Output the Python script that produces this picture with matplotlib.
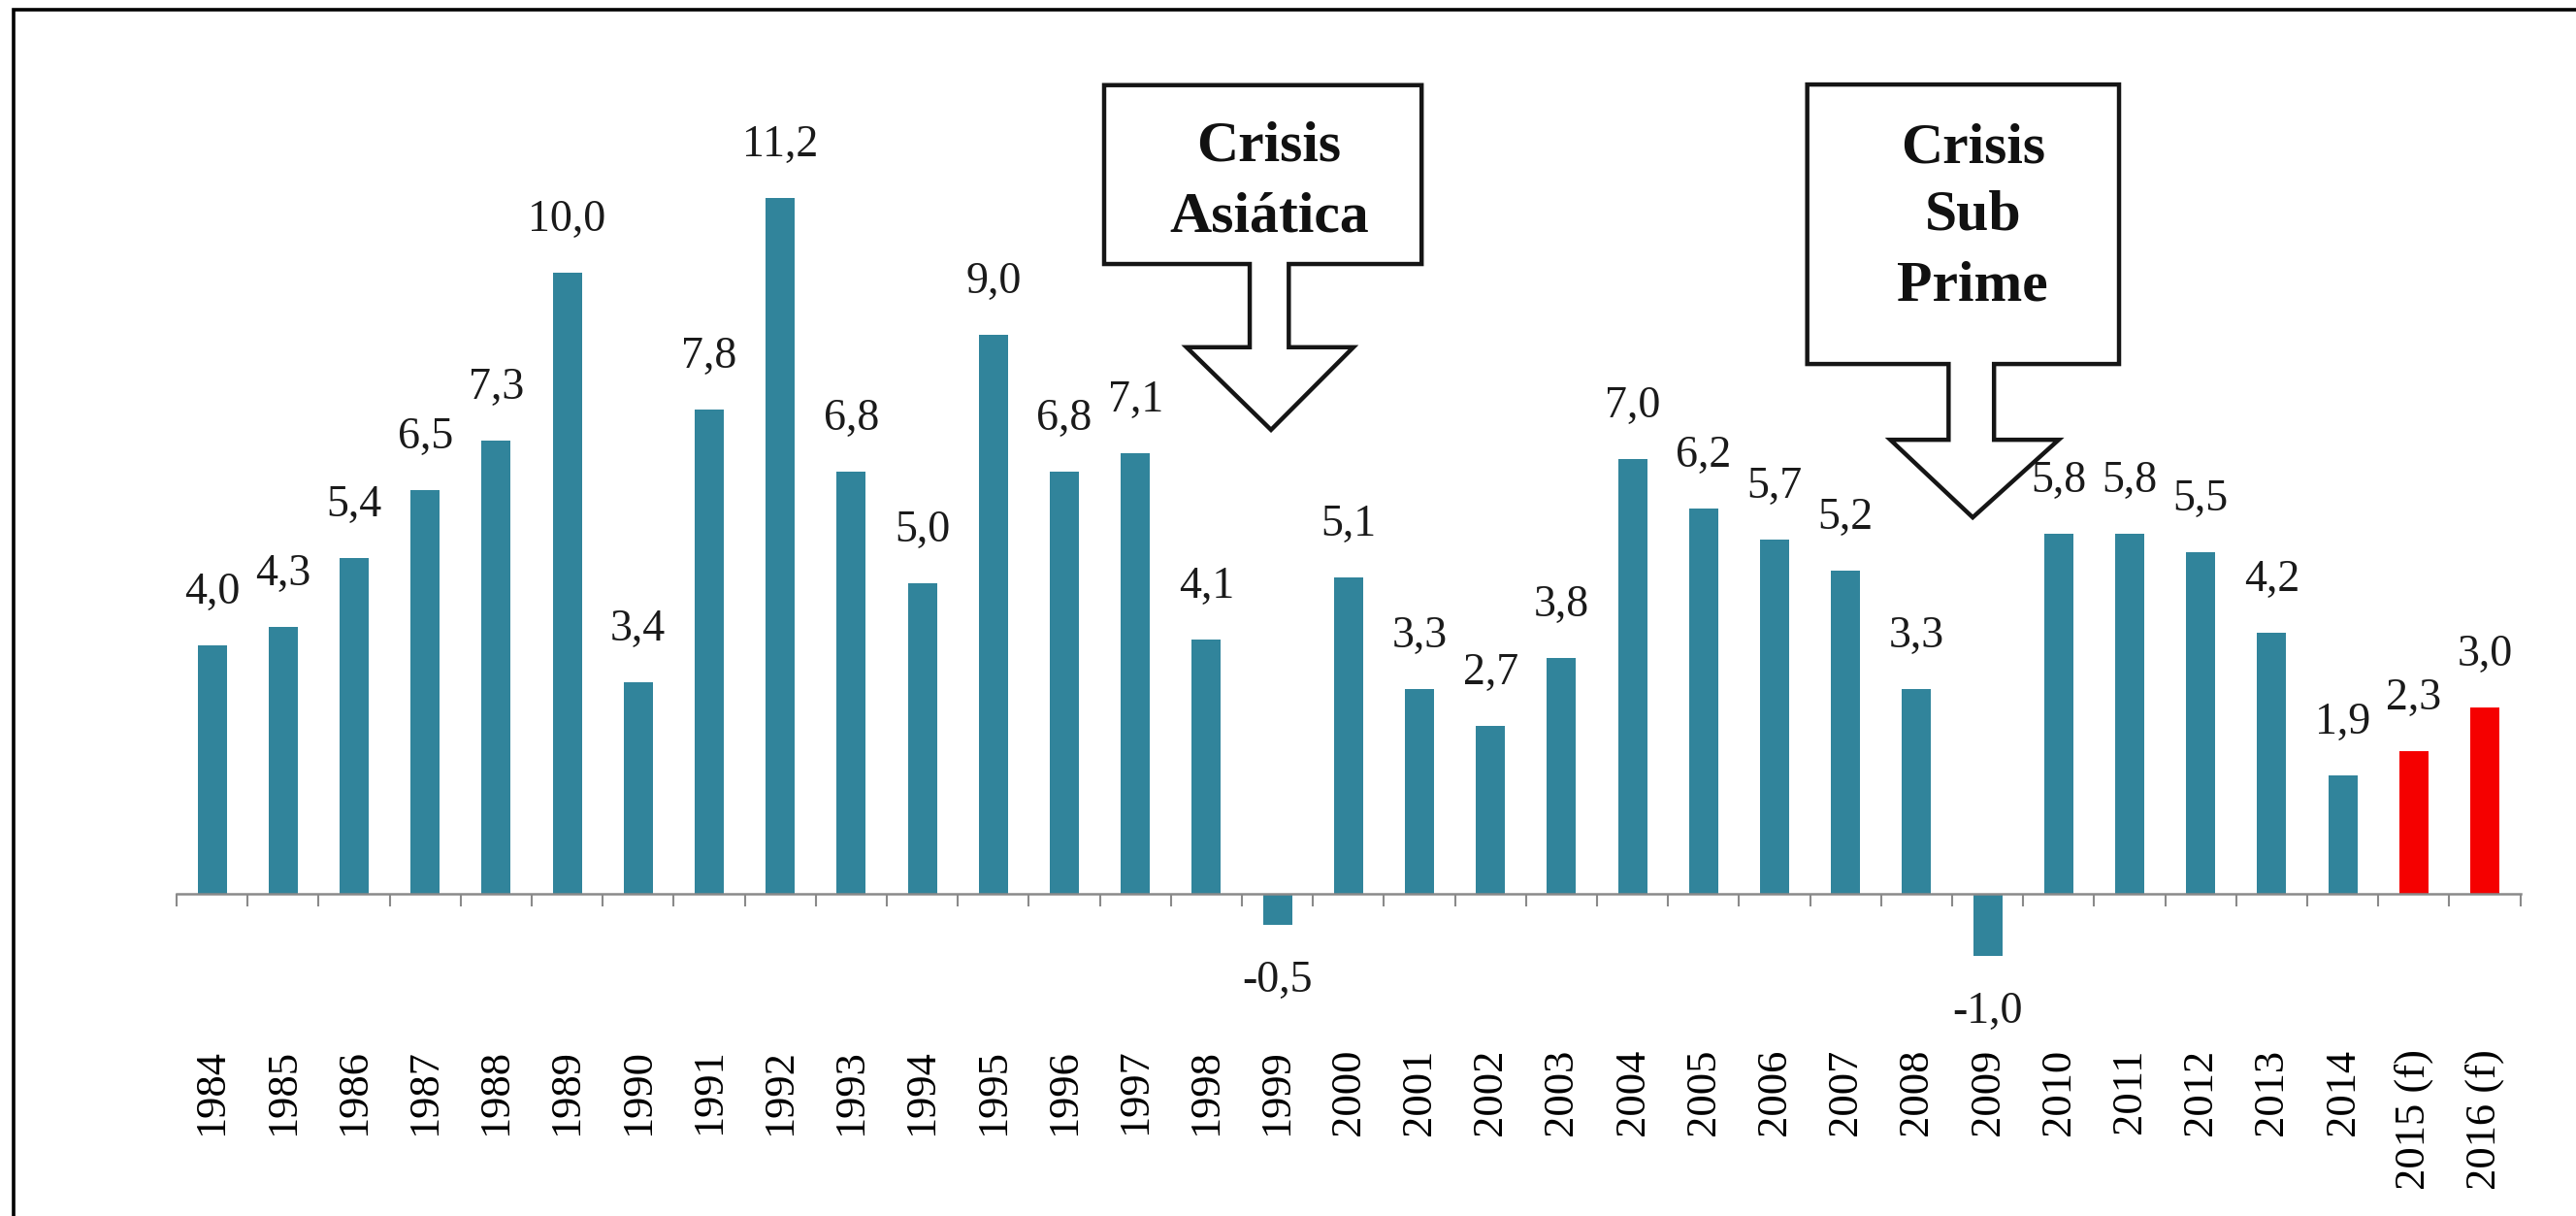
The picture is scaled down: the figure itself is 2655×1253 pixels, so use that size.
import matplotlib
matplotlib.use('Agg')
import matplotlib.pyplot as plt
from matplotlib.patches import Polygon, Rectangle

# datos
anios = ['1984', '1985', '1986', '1987', '1988', '1989', '1990', '1991', '1992',
         '1993', '1994', '1995', '1996', '1997', '1998', '1999', '2000', '2001',
         '2002', '2003', '2004', '2005', '2006', '2007', '2008', '2009', '2010',
         '2011', '2012', '2013', '2014', '2015 (f)', '2016 (f)']
crecimiento = [4.0, 4.3, 5.4, 6.5, 7.3, 10.0, 3.4, 7.8, 11.2, 6.8, 5.0, 9.0, 6.8,
               7.1, 4.1, -0.5, 5.1, 3.3, 2.7, 3.8, 7.0, 6.2, 5.7, 5.2, 3.3, -1.0,
               5.8, 5.8, 5.5, 4.2, 1.9, 2.3, 3.0]
proyectado = [a.endswith('(f)') for a in anios]

azul = '#31849B'
rojo = '#F50000'

plt.rcParams['font.family'] = ['Liberation Serif', 'DejaVu Serif']

fig = plt.figure(figsize=(26.55, 12.53), dpi=100, facecolor='white')
ax = fig.add_axes([0.06855, 0.18324, 0.90983, 0.76616])

x = list(range(len(anios)))
colores = [rojo if p else azul for p in proyectado]
barras = ax.bar(x, crecimiento, width=0.41, color=colores, zorder=2)

# etiquetas de valor
for xi, v in zip(x, crecimiento):
    txt = f'{v:.1f}'.replace('.', ',')
    if v >= 0:
        ax.annotate(txt, (xi, v), xytext=(0, 31), textcoords='offset points',
                    ha='center', va='baseline', fontsize=33, color='#1a1a1a')
    else:
        ax.annotate(txt, (xi, v), xytext=(0, -50), textcoords='offset points',
                    ha='center', va='baseline', fontsize=33, color='#1a1a1a')

ax.set_xlim(-0.5, len(anios) - 0.5)
ax.set_ylim(-1.6, 13.4)

for s in ['top', 'right', 'left']:
    ax.spines[s].set_visible(False)
ax.spines['bottom'].set_position(('data', 0))
ax.spines['bottom'].set_color('#8a8a8a')
ax.spines['bottom'].set_linewidth(1.8)
ax.set_yticks([])

ax.set_xticks(x)
ax.set_xticklabels(anios, rotation=90, fontsize=32)
ax.set_xticks([i - 0.5 for i in range(len(anios) + 1)], minor=True)
ax.tick_params(axis='x', which='major', length=0, pad=115)
ax.tick_params(axis='x', which='minor', length=9.5, width=1.5, color='#8a8a8a', direction='out')


def callout(ax, caja, eje, cabeza, punta, lineas, baselines, xt):
    # caja: (izq, der, abajo, arriba); eje: (izq, der); cabeza: (izq, der, base)
    izq, der, abajo, arriba = caja
    e1, e2 = eje
    c1, c2, base = cabeza
    px, py = punta
    verts = [(izq, arriba), (der, arriba), (der, abajo), (e2, abajo), (e2, base),
             (c2, base), (px, py), (c1, base), (e1, base), (e1, abajo),
             (izq, abajo)]
    ax.add_patch(Polygon(verts, closed=True, facecolor='white', edgecolor='#151515',
                         linewidth=3.2, joinstyle='miter', clip_on=False, zorder=4))
    for linea, yb in zip(lineas, baselines):
        ax.text(xt, yb, linea, ha='center', va='baseline', fontsize=43,
                fontweight='bold', color='#111111', zorder=5, clip_on=False)


callout(ax, (12.56, 17.03, 10.14, 13.02), (14.61, 15.16), (13.72, 16.07, 8.80),
        (14.91, 7.47), ['Crisis', 'Asiática'], [11.81, 10.67], 14.88)
callout(ax, (22.46, 26.85, 8.53, 13.03), (24.45, 25.09), (23.63, 26.00, 7.31),
        (24.79, 6.06), ['Crisis', 'Sub', 'Prime'], [11.78, 10.69, 9.55], 24.79)

# marco exterior
fig.patches.append(Rectangle((14.5 / 2655, -0.1), 1.2, 1.1 - 10 / 1253,
                             transform=fig.transFigure, fill=False,
                             edgecolor='black', linewidth=2.6, clip_on=False))

fig.savefig('out.png', dpi=100, facecolor='white')
